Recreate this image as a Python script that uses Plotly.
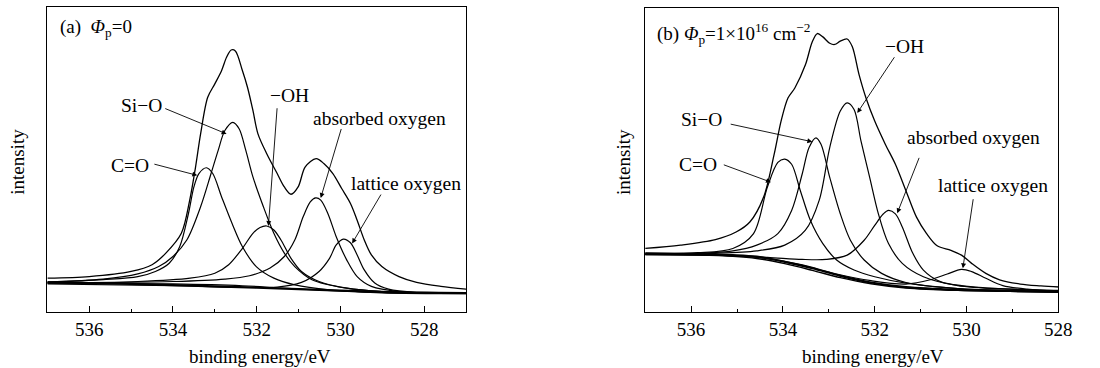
import plotly.graph_objects as go

# ---------------- Panel (a): Phi_p = 0 ----------------
a_env_e = [537.0, 536.0, 535.0, 534.5, 534.17, 533.80, 533.60, 533.46, 533.34, 533.17, 533.0, 532.84, 532.72, 532.61,
           532.51, 532.34, 532.22, 532.09, 531.97, 531.76, 531.51, 531.34, 531.18, 531.01, 530.84, 530.58, 530.39,
           530.18, 529.97, 529.76, 529.60, 529.43, 529.26, 529.01, 528.60, 528.18, 527.60, 526.98]
a_env_i = [11.1, 11.6, 13.3, 15.5, 19.3, 25.8, 36.7, 47.6, 58.4, 70.4, 74.8, 79.1, 83.5, 85.9,
           85.6, 79.1, 73.7, 66.1, 58.4, 51.9, 45.4, 41.0, 38.6, 41.0, 47.6, 50.3, 48.6,
           45.4, 40.5, 35.6, 30.1, 23.6, 18.7, 14.9, 11.6, 9.7, 8.4, 7.5]

a_co_e = [537.0, 535.67, 534.84, 534.42, 534.09, 533.84, 533.63, 533.5, 533.38, 533.2, 533.05, 532.84, 532.59,
          532.34, 532.01, 531.59, 531.09, 530.26, 529.01, 527.0]
a_co_i = [9.7, 10.6, 11.6, 13.3, 16.0, 21.4, 32.3, 41.0, 45.4, 47.3, 45.4, 37.8, 29.1,
          21.4, 14.9, 11.1, 8.9, 7.3, 6.4, 6.2]

a_sio_e = [537.0, 535.67, 534.84, 534.34, 534.0, 533.67, 533.34, 533.09, 532.92, 532.76, 532.57, 532.42, 532.26,
           532.09, 531.84, 531.59, 531.34, 531.09, 530.68, 529.85, 529.01, 527.0]
a_sio_i = [9.9, 10.8, 12.5, 14.9, 18.2, 23.6, 34.5, 45.4, 53.0, 59.5, 62.2, 60.1, 53.0,
           44.3, 34.5, 25.8, 19.3, 14.9, 10.6, 7.8, 6.7, 6.2]

a_oh_e = [537.0, 534.84, 533.59, 533.0, 532.67, 532.34, 532.09, 531.92, 531.76, 531.59, 531.42, 531.18, 530.93,
          530.51, 529.85, 529.01, 527.0]
a_oh_i = [9.5, 10.0, 11.1, 12.7, 15.5, 20.9, 25.8, 27.7, 28.2, 26.9, 23.6, 17.6, 13.3,
          10.0, 7.8, 6.7, 6.2]

a_abs_e = [537.0, 534.0, 532.76, 532.17, 531.68, 531.34, 531.09, 530.89, 530.72, 530.59, 530.47, 530.30, 530.10,
           529.85, 529.60, 529.26, 528.6, 527.0]
a_abs_i = [9.5, 10.0, 10.8, 11.9, 14.4, 18.2, 23.6, 31.2, 36.1, 37.4, 36.7, 32.3, 24.7,
           17.1, 11.6, 8.4, 6.7, 6.2]

a_lat_e = [537.0, 534.0, 531.51, 530.93, 530.51, 530.26, 530.10, 529.93, 529.76, 529.60, 529.43, 529.18, 528.85,
           528.18, 527.0]
a_lat_i = [9.2, 8.6, 8.2, 9.7, 13.3, 17.6, 22.0, 23.9, 22.7, 18.7, 13.8, 9.5, 7.5,
           6.4, 6.1]

a_bg1_e = [537.0, 535.0, 533.0, 531.0, 529.0, 527.0]
a_bg1_i = [9.7, 9.2, 8.4, 7.5, 6.6, 6.2]
a_bg2_e = [537.0, 534.0, 532.34, 530.68, 529.01, 527.0]
a_bg2_i = [9.5, 9.2, 8.6, 7.3, 6.3, 6.0]

# ---------------- Panel (b): Phi_p = 1e16 cm^-2 ----------------
b_env_e = [537.0, 536.23, 535.47, 535.02, 534.72, 534.42, 534.19, 534.04, 533.89, 533.74, 533.51, 533.36, 533.25,
           533.13, 532.98, 532.87, 532.75, 532.60, 532.49, 532.34, 532.19, 532.0, 531.77, 531.55, 531.32, 531.09,
           530.87, 530.64, 530.34, 530.11, 529.89, 529.58, 529.28, 528.83, 528.38, 527.96]
b_env_i = [20.9, 22.0, 23.8, 26.3, 29.6, 37.8, 51.9, 62.8, 70.4, 73.7, 81.3, 88.9, 91.6,
           90.5, 88.4, 88.0, 89.1, 89.8, 87.3, 78.0, 70.4, 62.8, 55.2, 48.6, 39.9, 31.2,
           25.8, 21.8, 20.3, 18.7, 16.0, 12.7, 10.6, 9.2, 8.6, 8.2]

b_co_e = [537.0, 535.85, 535.09, 534.64, 534.34, 534.11, 533.96, 533.81, 533.62, 533.40, 533.13, 532.83, 532.45,
          532.0, 531.32, 530.19, 529.06, 527.96]
b_co_i = [19.3, 19.5, 20.9, 25.8, 41.0, 49.2, 50.3, 48.6, 39.9, 30.1, 22.5, 17.1, 13.8,
          11.6, 9.5, 7.7, 7.1, 6.7]

b_sio_e = [537.0, 535.85, 535.09, 534.57, 534.11, 533.81, 533.58, 533.43, 533.28, 533.17, 532.98, 532.75, 532.53,
           532.23, 531.85, 531.32, 530.19, 527.96]
b_sio_i = [19.0, 19.3, 20.1, 22.0, 25.8, 33.4, 45.4, 54.1, 57.3, 55.2, 44.3, 32.3, 23.6,
           17.1, 12.7, 9.7, 7.7, 6.7]

b_oh_e = [537.0, 535.47, 534.57, 533.96, 533.51, 533.21, 532.98, 532.75, 532.60, 532.45, 532.30, 532.11, 531.92,
          531.70, 531.40, 530.94, 530.19, 529.06, 527.96]
b_oh_i = [19.0, 19.3, 20.1, 22.0, 26.9, 36.7, 54.1, 66.1, 68.8, 66.6, 56.3, 44.3, 32.3,
          22.5, 16.0, 11.6, 8.7, 7.5, 6.9]

b_abs_e = [537.0, 535.47, 534.34, 533.58, 533.06, 532.60, 532.23, 532.0, 531.81, 531.70, 531.55, 531.40, 531.17,
           530.94, 530.57, 529.81, 527.96]
b_abs_i = [19.0, 18.7, 18.0, 17.3, 17.3, 18.7, 23.6, 28.5, 32.3, 33.4, 32.3, 28.0, 19.3,
           13.8, 10.0, 8.2, 7.1]

b_lat_e = [537.0, 535.47, 534.34, 533.58, 532.83, 532.08, 531.32, 530.79, 530.42, 530.11, 529.89, 529.58, 529.21,
           528.68, 527.96]
b_lat_i = [18.9, 18.7, 17.6, 15.5, 12.5, 10.3, 9.2, 10.6, 12.5, 14.0, 13.3, 11.1, 8.7,
           7.5, 6.9]

b_bg1_e = [537.0, 535.85, 535.09, 534.57, 533.96, 533.36, 532.75, 532.08, 531.32, 530.19, 529.06, 527.96]
b_bg1_i = [19.3, 19.0, 18.7, 18.2, 16.5, 14.4, 11.9, 9.7, 8.2, 7.3, 6.9, 6.6]
b_bg2_e = [537.0, 535.85, 535.09, 534.57, 533.96, 533.36, 532.75, 532.08, 531.32, 530.19, 529.06, 527.96]
b_bg2_i = [18.9, 18.7, 18.3, 17.6, 15.9, 13.7, 11.3, 9.3, 7.9, 7.1, 6.8, 6.5]

x_ticks_a = [536, 534, 532, 530, 528]
x_ticks_b = [536, 534, 532, 530, 528]

FONT = "Liberation Serif, Times New Roman, Times, serif"
FS = 19
FL = 19.5
W, H = 1100, 368

fig = go.Figure()

def add(e, i, xa, ya, width=1.2):
    fig.add_trace(go.Scatter(x=e, y=i, mode="lines", xaxis=xa, yaxis=ya,
                             line=dict(color="black", width=width, shape="spline", smoothing=0.9),
                             showlegend=False, hoverinfo="skip"))

for e, i, w in [(a_bg1_e, a_bg1_i, 2.2), (a_bg2_e, a_bg2_i, 1.2), (a_co_e, a_co_i, 1.2), (a_sio_e, a_sio_i, 1.2),
                (a_oh_e, a_oh_i, 1.2), (a_abs_e, a_abs_i, 1.2), (a_lat_e, a_lat_i, 1.2), (a_env_e, a_env_i, 1.3)]:
    add(e, i, "x", "y", w)
for e, i, w in [(b_bg1_e, b_bg1_i, 2.2), (b_bg2_e, b_bg2_i, 1.4), (b_co_e, b_co_i, 1.2), (b_sio_e, b_sio_i, 1.2),
                (b_oh_e, b_oh_i, 1.2), (b_abs_e, b_abs_i, 1.2), (b_lat_e, b_lat_i, 1.2), (b_env_e, b_env_i, 1.3)]:
    add(e, i, "x2", "y2", w)

def px_x(p):
    return p / W

def px_y(p):
    return 1 - p / H

axis_common = dict(showline=True, linecolor="black", linewidth=1.2, mirror=True, showgrid=False,
                   zeroline=False, ticks="inside", ticklen=6, tickwidth=1, tickcolor="black",
                   tickfont=dict(family=FONT, size=FS, color="black"),
                   minor=dict(ticks="inside", dtick=1, ticklen=3, tickwidth=1, tickcolor="black", showgrid=False))

fig.update_layout(
    width=W, height=H, margin=dict(l=0, r=0, t=0, b=0),
    paper_bgcolor="white", plot_bgcolor="white",
    font=dict(family=FONT, size=FS, color="black"),
    xaxis=dict(domain=[px_x(48), px_x(472)], range=[537, 527], tickvals=x_ticks_a, anchor="y", **axis_common),
    xaxis2=dict(domain=[px_x(653.5), px_x(1072)], range=[537, 528], tickvals=x_ticks_b, anchor="y2", **axis_common),
    yaxis=dict(domain=[px_y(312), px_y(7)], range=[0, 100], showticklabels=False, ticks="", showgrid=False,
               zeroline=False, showline=True, linecolor="black", linewidth=1.2, mirror=True, anchor="x"),
    yaxis2=dict(domain=[px_y(312), px_y(8)], range=[0, 100], showticklabels=False, ticks="", showgrid=False,
                zeroline=False, showline=True, linecolor="black", linewidth=1.2, mirror=True, anchor="x2"),
)

tf = dict(family=FONT, size=FS, color="black")
lf = dict(family=FONT, size=FL, color="black")
ann = []
# axis titles
ann.append(dict(x=px_x(263), y=px_y(356), xref="paper", yref="paper", xanchor="center", yanchor="middle",
                text="binding energy/eV", showarrow=False, font=tf))
ann.append(dict(x=px_x(884), y=px_y(356), xref="paper", yref="paper", xanchor="center", yanchor="middle",
                text="binding energy/eV", showarrow=False, font=tf))
ann.append(dict(x=px_x(17), y=px_y(162), xref="paper", yref="paper", xanchor="center", yanchor="middle",
                text="intensity", textangle=-90, showarrow=False, font=tf))
ann.append(dict(x=px_x(631), y=px_y(162), xref="paper", yref="paper", xanchor="center", yanchor="middle",
                text="intensity", textangle=-90, showarrow=False, font=tf))
# panel labels
ann.append(dict(x=px_x(59), y=px_y(28), xref="paper", yref="paper", xanchor="left", yanchor="middle",
                text="(a)  <i>Φ</i><sub>p</sub>=0", showarrow=False, font=tf))
ann.append(dict(x=px_x(663), y=px_y(33), xref="paper", yref="paper", xanchor="left", yanchor="middle",
                text="(b) <i>Φ</i><sub>p</sub>=1×10<sup>16</sup> cm<sup>−2</sup>", showarrow=False, font=tf))

# labels (text, text pos, arrow tail, arrow tip)
labels_a = [
    ("Si−O", 534.75, 67.7, 534.22, 66.9, 532.72, 58.4),
    ("C=O", 535.02, 48.1, 534.48, 48.6, 533.42, 44.8),
    ("−OH", 531.22, 70.9, 531.51, 67.3, 531.72, 28.2),
    ("absorbed oxygen", 529.06, 63.3, 529.97, 60.5, 530.47, 37.4),
    ("lattice oxygen", 528.43, 42.1, 529.01, 39.0, 529.72, 22.5),
]
labels_b = [
    ("−OH", 531.36, 87.3, 531.55, 84.3, 532.38, 65.5),
    ("Si−O", 535.77, 63.3, 535.17, 61.9, 533.36, 56.0),
    ("C=O", 535.86, 48.4, 535.32, 48.6, 534.26, 42.7),
    ("absorbed oxygen", 529.85, 57.3, 531.02, 51.2, 531.51, 32.5),
    ("lattice oxygen", 529.43, 41.6, 529.85, 37.6, 530.08, 14.4),
]
for lab, xs, suf in [(labels_a, "x", "y"), (labels_b, "x2", "y2")]:
    for t, tx, ty, ax, ay, hx, hy in lab:
        ann.append(dict(x=tx, y=ty, xref=xs, yref=suf, text=t, showarrow=False, font=lf))
        ann.append(dict(x=hx, y=hy, ax=ax, ay=ay, xref=xs, yref=suf, axref=xs, ayref=suf, text="",
                        showarrow=True, arrowhead=2, arrowsize=1.1, arrowwidth=0.9, arrowcolor="black"))

fig.update_layout(annotations=ann)
fig.write_html("out.html")
